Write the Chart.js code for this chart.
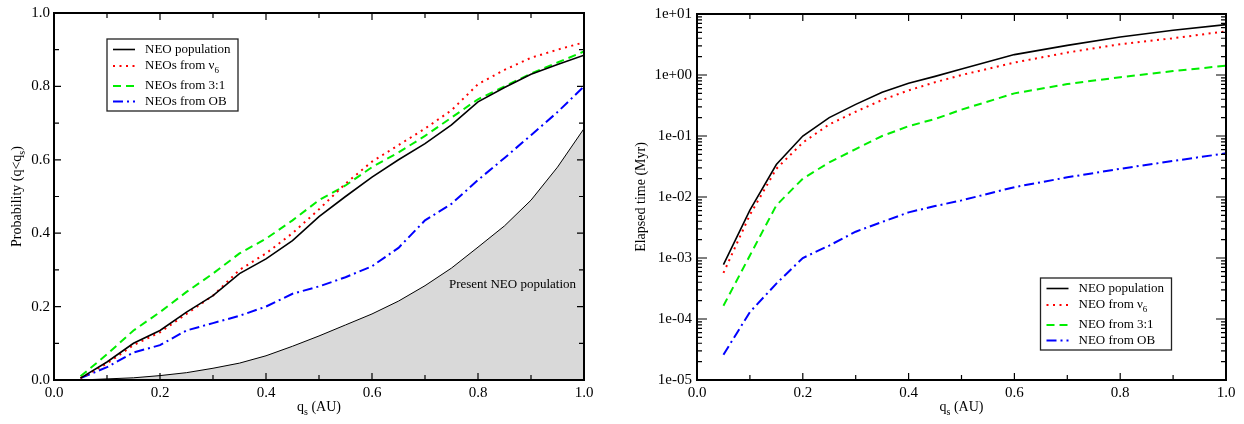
<!DOCTYPE html>
<html>
<head>
<meta charset="utf-8">
<script src="https://cdn.jsdelivr.net/npm/chart.js@4.4.0/dist/chart.umd.min.js"></script>
<style>
  body { margin: 0; background: #fff; }
  #wrap { position: relative; width: 1244px; height: 424px; }
  .box { position: absolute; top: 0; height: 424px; }
</style>
</head>
<body>
<div id="wrap">
  <div class="box" style="left:0;width:620px"><canvas id="chartProb"></canvas></div>
  <div class="box" style="left:620px;width:624px"><canvas id="chartTime"></canvas></div>
</div>
<script>
// left panel: cumulative probability q < q_s
var qs = [0.05, 0.10, 0.15, 0.20, 0.25, 0.30, 0.35, 0.40, 0.45, 0.50,
          0.55, 0.60, 0.65, 0.70, 0.75, 0.80, 0.85, 0.90, 0.95, 1.00];
var probNeo = [0.005, 0.049, 0.100, 0.135, 0.185, 0.230, 0.290, 0.330, 0.380, 0.445,
               0.500, 0.553, 0.600, 0.644, 0.695, 0.758, 0.797, 0.833, 0.860, 0.885];
var probNu6 = [0.005, 0.045, 0.095, 0.130, 0.180, 0.230, 0.300, 0.345, 0.400, 0.465,
               0.535, 0.595, 0.640, 0.685, 0.735, 0.806, 0.845, 0.878, 0.900, 0.920];
var prob31 = [0.010, 0.070, 0.135, 0.185, 0.240, 0.290, 0.345, 0.385, 0.435, 0.490,
              0.530, 0.580, 0.620, 0.665, 0.715, 0.765, 0.800, 0.835, 0.865, 0.895];
var probOB = [0.005, 0.035, 0.075, 0.095, 0.135, 0.155, 0.175, 0.200, 0.235, 0.255,
              0.280, 0.310, 0.360, 0.435, 0.480, 0.545, 0.605, 0.667, 0.730, 0.800];
var probPresent = [0.000, 0.003, 0.006, 0.012, 0.020, 0.032, 0.046, 0.066, 0.092, 0.120,
                   0.150, 0.180, 0.215, 0.257, 0.305, 0.362, 0.420, 0.490, 0.580, 0.685];

// right panel: elapsed time (Myr)
var qsTime = [0.05, 0.10, 0.15, 0.20, 0.25, 0.30, 0.35, 0.40, 0.45, 0.50, 0.60, 0.70, 0.80, 0.90, 1.00];
var timeNeo = [7.8e-4, 6.1e-3, 0.034, 0.100, 0.200, 0.330, 0.520, 0.730, 0.950, 1.25, 2.16, 3.06, 4.2, 5.4, 6.7];
var timeNu6 = [5.7e-4, 5.1e-3, 0.029, 0.078, 0.155, 0.250, 0.390, 0.560, 0.760, 1.00, 1.60, 2.33, 3.2, 4.0, 5.2];
var time31 = [1.65e-4, 1.1e-3, 7.3e-3, 0.020, 0.037, 0.061, 0.100, 0.145, 0.190, 0.27, 0.50, 0.71, 0.92, 1.16, 1.42];
var timeOB = [2.6e-5, 1.3e-4, 3.8e-4, 1.0e-3, 1.6e-3, 2.7e-3, 3.9e-3, 5.6e-3, 7.1e-3, 8.8e-3, 0.0145, 0.021, 0.029, 0.039, 0.052];

var xTicks = [0, 0.2, 0.4, 0.6, 0.8, 1.0];
var probTicks = [0, 0.2, 0.4, 0.6, 0.8, 1.0];
var decades = [1e-5, 1e-4, 1e-3, 1e-2, 1e-1, 1, 10];

Chart.defaults.font.family = '"Liberation Serif", "DejaVu Serif", serif';
Chart.defaults.font.size = 15;
Chart.defaults.color = '#000';

function pts(xs, ys) {
  return xs.map(function (x, i) { return { x: x, y: ys[i] }; });
}

function line(label, xs, ys, color, dash, width) {
  return {
    label: label, data: pts(xs, ys), borderColor: color, backgroundColor: color,
    borderDash: dash, borderWidth: width, pointRadius: 0, tension: 0, fill: false
  };
}

// text with "_x" subscripts
function drawSub(ctx, text, x, y, size, align) {
  var parts = text.split('_');
  var main = size + 'px "Liberation Serif", serif';
  var small = Math.round(size * 0.72) + 'px "Liberation Serif", serif';
  var segs = [];
  var total = 0;
  parts.forEach(function (p, i) {
    if (i === 0) { segs.push({ t: p, f: main, dy: 0 }); return; }
    segs.push({ t: p.charAt(0), f: small, dy: size * 0.35 });
    if (p.length > 1) segs.push({ t: p.slice(1), f: main, dy: 0 });
  });
  segs.forEach(function (s) { ctx.font = s.f; s.w = ctx.measureText(s.t).width; total += s.w; });
  var cx = align === 'center' ? x - total / 2 : x;
  ctx.textAlign = 'left';
  ctx.textBaseline = 'middle';
  segs.forEach(function (s) {
    ctx.font = s.f;
    ctx.fillText(s.t, cx, y + s.dy);
    cx += s.w;
  });
}

var decorPlugin = {
  id: 'decor',
  afterDatasetsDraw: function (chart, args, opts) {
    var ctx = chart.ctx, a = chart.chartArea;
    var xs = chart.scales.x, ys = chart.scales.y;
    ctx.save();
    ctx.strokeStyle = '#000';
    ctx.fillStyle = '#000';

    // inward ticks on all four sides
    ctx.lineWidth = 1.2;
    ctx.beginPath();
    for (var v = 0; v <= 10; v++) {
      var px = xs.getPixelForValue(v / 10);
      var len = v % 2 === 0 ? 7 : 5;
      ctx.moveTo(px, a.bottom); ctx.lineTo(px, a.bottom - len);
      ctx.moveTo(px, a.top); ctx.lineTo(px, a.top + len);
    }
    if (opts.logY) {
      decades.forEach(function (d, i) {
        var py = ys.getPixelForValue(d);
        ctx.moveTo(a.left, py); ctx.lineTo(a.left + 10, py);
        ctx.moveTo(a.right, py); ctx.lineTo(a.right - 10, py);
        if (i === decades.length - 1) return;
        for (var k = 2; k <= 9; k++) {
          var pm = ys.getPixelForValue(d * k);
          ctx.moveTo(a.left, pm); ctx.lineTo(a.left + 5, pm);
          ctx.moveTo(a.right, pm); ctx.lineTo(a.right - 5, pm);
        }
      });
    } else {
      for (var w = 0; w <= 10; w++) {
        var py2 = ys.getPixelForValue(w / 10);
        var l2 = w % 2 === 0 ? 7 : 5;
        ctx.moveTo(a.left, py2); ctx.lineTo(a.left + l2, py2);
        ctx.moveTo(a.right, py2); ctx.lineTo(a.right - l2, py2);
      }
    }
    ctx.stroke();

    // frame
    ctx.lineWidth = 2;
    ctx.strokeRect(a.left, a.top, a.right - a.left, a.bottom - a.top);

    // axis titles
    drawSub(ctx, 'q_s (AU)', (a.left + a.right) / 2, 407, 14, 'center');
    ctx.save();
    ctx.translate(opts.yTitleX, (a.top + a.bottom) / 2);
    ctx.rotate(-Math.PI / 2);
    drawSub(ctx, opts.yTitle, 0, 0, 14, 'center');
    ctx.restore();

    // annotation
    if (opts.note) {
      ctx.font = '13px "Liberation Serif", serif';
      ctx.textAlign = 'center';
      ctx.textBaseline = 'middle';
      ctx.fillText(opts.note.text, xs.getPixelForValue(opts.note.x), ys.getPixelForValue(opts.note.y));
    }

    // legend box
    var lg = opts.legend;
    var bx = a.left + lg.dx, by = a.top + lg.dy;
    ctx.fillStyle = '#fff';
    ctx.fillRect(bx, by, lg.w, lg.h);
    ctx.lineWidth = 1.3;
    ctx.strokeStyle = '#222';
    ctx.strokeRect(bx, by, lg.w, lg.h);
    var rows = [10.5, 27, 47, 62.5];
    chart.data.datasets.slice(0, 4).forEach(function (ds, i) {
      var ry = by + rows[i];
      ctx.save();
      ctx.strokeStyle = ds.borderColor;
      ctx.lineWidth = ds.borderWidth;
      ctx.setLineDash(ds.borderDash || []);
      ctx.beginPath();
      ctx.moveTo(bx + 6, ry); ctx.lineTo(bx + 28, ry);
      ctx.stroke();
      ctx.restore();
      ctx.fillStyle = '#000';
      drawSub(ctx, ds.label, bx + 38, ry, 13, 'left');
    });
    ctx.restore();
  }
};

function fixWidth(w) { return function (scale) { scale.width = w; }; }
function fixHeight(h) { return function (scale) { scale.height = h; }; }

new Chart(document.getElementById('chartProb'), {
  type: 'line',
  data: {
    datasets: [
      line('NEO population', qs, probNeo, '#000', [], 1.6),
      line('NEOs from ν_6', qs, probNu6, '#ff0000', [2, 4.5], 2),
      line('NEOs from 3:1', qs, prob31, '#00ee00', [8, 5], 2),
      line('NEOs from OB', qs, probOB, '#0000ff', [10, 4, 2, 4], 2),
      {
        label: 'Present NEO population', data: pts(qs, probPresent),
        borderColor: '#000', borderWidth: 1, backgroundColor: '#d9d9d9',
        pointRadius: 0, fill: 'origin', tension: 0
      }
    ]
  },
  options: {
    responsive: true,
    maintainAspectRatio: false,
    animation: false,
    layout: { padding: { top: 10, right: 36, left: 0, bottom: 0 } },
    plugins: {
      legend: { display: false },
      tooltip: { enabled: false },
      decor: {
        yTitle: 'Probability (q<q_s)', yTitleX: 17,
        note: { text: 'Present NEO population', x: 0.865, y: 0.26 },
        legend: { dx: 53, dy: 26, w: 131, h: 72 }
      }
    },
    scales: {
      x: {
        type: 'linear', min: 0, max: 1,
        afterFit: fixHeight(44),
        afterBuildTicks: function (s) { s.ticks = xTicks.map(function (v) { return { value: v }; }); },
        grid: { display: false, drawTicks: false },
        border: { display: false },
        ticks: { padding: 4, maxRotation: 0, callback: function (v) { return v.toFixed(1); } }
      },
      y: {
        type: 'linear', min: 0, max: 1,
        afterFit: fixWidth(54),
        afterBuildTicks: function (s) { s.ticks = probTicks.map(function (v) { return { value: v }; }); },
        grid: { display: false, drawTicks: false },
        border: { display: false },
        ticks: { padding: 4, callback: function (v) { return v.toFixed(1); } }
      }
    }
  },
  plugins: [decorPlugin]
});

new Chart(document.getElementById('chartTime'), {
  type: 'line',
  data: {
    datasets: [
      line('NEO population', qsTime, timeNeo, '#000', [], 1.6),
      line('NEO from ν_6', qsTime, timeNu6, '#ff0000', [2, 4.5], 2),
      line('NEO from 3:1', qsTime, time31, '#00ee00', [8, 5], 2),
      line('NEO from OB', qsTime, timeOB, '#0000ff', [10, 4, 2, 4], 2)
    ]
  },
  options: {
    responsive: true,
    maintainAspectRatio: false,
    animation: false,
    layout: { padding: { top: 10, right: 18, left: 0, bottom: 0 } },
    plugins: {
      legend: { display: false },
      tooltip: { enabled: false },
      decor: {
        logY: true,
        yTitle: 'Elapsed time (Myr)', yTitleX: 21,
        legend: { dx: 343.5, dy: 264, w: 131, h: 72 }
      }
    },
    scales: {
      x: {
        type: 'linear', min: 0, max: 1,
        afterFit: fixHeight(44),
        afterBuildTicks: function (s) { s.ticks = xTicks.map(function (v) { return { value: v }; }); },
        grid: { display: false, drawTicks: false },
        border: { display: false },
        ticks: { padding: 4, maxRotation: 0, callback: function (v) { return v.toFixed(1); } }
      },
      y: {
        type: 'logarithmic', min: 1e-5, max: 10,
        afterFit: fixWidth(77),
        afterBuildTicks: function (s) { s.ticks = decades.map(function (v) { return { value: v }; }); },
        grid: { display: false, drawTicks: false },
        border: { display: false },
        ticks: {
          padding: 5,
          callback: function (v) {
            var e = Math.round(Math.log10(v));
            return '1e' + (e < 0 ? '-' : '+') + (Math.abs(e) < 10 ? '0' : '') + Math.abs(e);
          }
        }
      }
    }
  },
  plugins: [decorPlugin]
});
</script>
</body>
</html>
